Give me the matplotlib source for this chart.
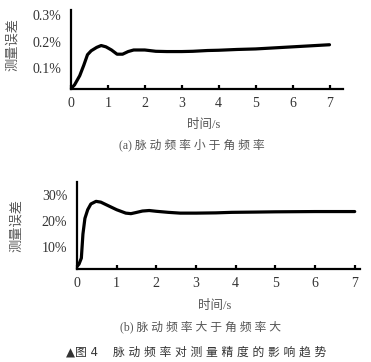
import numpy as np
import matplotlib
matplotlib.use("Agg")
import matplotlib.pyplot as plt

plt.rcParams['font.family'] = ['Liberation Serif', 'Noto Sans CJK SC']

# (a) pulse frequency below corner frequency, error in %
t_a = [0, 0.1, 0.24, 0.35, 0.45, 0.55, 0.7, 0.82, 0.95, 1.1, 1.25, 1.4, 1.55, 1.7,
       2.0, 2.3, 2.6, 3.0, 3.3, 3.7, 4.0, 4.5, 5.0, 5.5, 6.0, 6.5, 7.0]
err_a = [0.02, 0.035, 0.07, 0.11, 0.15, 0.165, 0.178, 0.185, 0.18, 0.168, 0.152, 0.152,
         0.162, 0.168, 0.168, 0.163, 0.162, 0.162, 0.163, 0.166, 0.167, 0.17, 0.172,
         0.176, 0.18, 0.184, 0.188]

# (b) pulse frequency above corner frequency, error in %
t_b = [0, 0.05, 0.11, 0.15, 0.2, 0.27, 0.35, 0.48, 0.6, 0.82, 1.0, 1.23, 1.36, 1.48,
       1.65, 1.82, 2.0, 2.3, 2.6, 3.0, 3.5, 3.9, 4.5, 5.0, 6.0, 7.0]
err_b = [2.6, 3.5, 5.8, 15.0, 21.0, 24.3, 26.5, 27.5, 27.2, 25.6, 24.3, 23.0, 22.8,
         23.2, 23.8, 24.0, 23.7, 23.3, 23.0, 23.0, 23.1, 23.3, 23.4, 23.5, 23.6, 23.6]

x_ticks = [0, 1, 2, 3, 4, 5, 6, 7]
yt_a = [0.1, 0.2, 0.3]
yt_b = [10, 20, 30]

gray = '#555555'
cjk = ['Noto Sans CJK SC', 'DejaVu Sans']
mixed = ['Liberation Serif', 'Noto Sans CJK SC']

fig = plt.figure(figsize=(3.71, 3.62), dpi=100)
ax1 = fig.add_axes([0.191, 0.754, 0.734, 0.218])
ax2 = fig.add_axes([0.2075, 0.258, 0.7625, 0.240])

ax1.plot(t_a, err_a, color='black', lw=2.3, solid_capstyle='round')
ax1.set_xlim(0, 7.37)
ax1.set_ylim(0.019, 0.32)
ax1.set_yticks(yt_a)
ax1.set_yticklabels(['%.1f%%' % v for v in yt_a])

ax2.plot(t_b, err_b, color='black', lw=2.3, solid_capstyle='round')
ax2.set_xlim(0, 7.13)
ax2.set_ylim(1.8, 35)
ax2.set_yticks(yt_b)
ax2.set_yticklabels(['%d%%' % v for v in yt_b])

for ax in (ax1, ax2):
    ax.spines['top'].set_visible(False)
    ax.spines['right'].set_visible(False)
    ax.spines['left'].set_linewidth(1.6)
    ax.spines['bottom'].set_linewidth(1.6)
    ax.set_xticks(x_ticks)
    ax.tick_params(axis='x', direction='in', length=3, width=1.6, labelsize=10,
                   pad=6, colors='black', labelcolor='#333333')
    ax.tick_params(axis='y', length=0, labelsize=10, pad=7, labelcolor='#333333')
    ax.set_ylabel('测量误差', family=cjk, fontsize=9.5, color=gray)

ax1.yaxis.set_label_coords(-0.19, 0.56)
ax2.yaxis.set_label_coords(-0.19, 0.50)

fig.text(204 / 371, 1 - 125 / 362, '时间/s', family=mixed, fontsize=9, color=gray,
         ha='center', va='center')
fig.text(192 / 371, 1 - 145 / 362, '(a) 脉 动 频 率 小 于 角 频 率', family=mixed,
         fontsize=8.5, color=gray, ha='center', va='center')
fig.text(215 / 371, 1 - 305.7 / 362, '时间/s', family=mixed, fontsize=9, color=gray,
         ha='center', va='center')
fig.text(201 / 371, 1 - 326.7 / 362, '(b) 脉 动 频 率 大 于 角 频 率 大', family=mixed,
         fontsize=8.5, color=gray, ha='center', va='center')
fig.text(196 / 371, 1 - 351.7 / 362, '▲图 4    脉 动 频 率 对 测 量 精 度 的 影 响 趋 势',
         family=['DejaVu Sans', 'Noto Sans CJK SC'], fontsize=8.5, color='#333333',
         ha='center', va='center')

fig.savefig('out.png', dpi=100)
